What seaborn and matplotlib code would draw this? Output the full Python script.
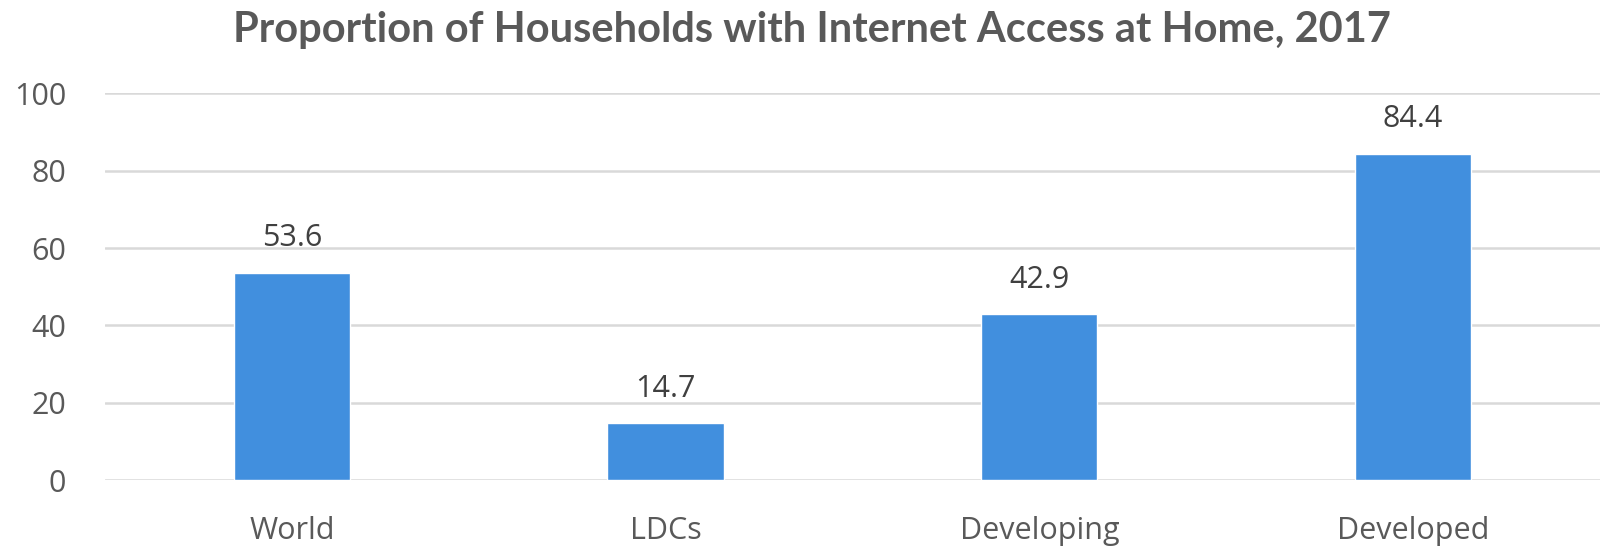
import matplotlib
matplotlib.use("Agg")
import matplotlib.pyplot as plt
import seaborn as sns
import pandas as pd

regions = ["World", "LDCs", "Developing", "Developed"]
share_pct = [53.6, 14.7, 42.9, 84.4]
y_ticks = [0, 20, 40, 60, 80, 100]

title = "Proportion of Households with Internet Access at Home, 2017"

sns.set_theme(style="white")
plt.rcParams["font.family"] = ["Open Sans", "DejaVu Sans"]

df = pd.DataFrame({"region": regions, "share": share_pct})

fig = plt.figure(figsize=(16, 5.48), dpi=100)
ax = fig.add_axes([0.0656, 0.124, 0.9344, 0.7057])

sns.barplot(data=df, x="region", y="share", order=regions, color="#418FDE",
            width=0.311, saturation=1, ax=ax, zorder=3)

ax.set_xlim(-0.5, len(regions) - 0.5)
ax.set_ylim(0, 100)
ax.set_yticks(y_ticks)
ax.set_yticklabels([str(t) for t in y_ticks])
ax.grid(axis="y", color="#D9D9D9", linewidth=1.8, zorder=0)
ax.grid(axis="x", visible=False)
for s in ax.spines.values():
    s.set_visible(False)

ax.tick_params(axis="y", length=0, pad=28, labelsize=22, labelcolor="#595959")
ax.tick_params(axis="x", length=0, pad=26, labelsize=22, labelcolor="#595959")
ax.set_xlabel("")
ax.set_ylabel("")

for cont in ax.containers:
    ax.bar_label(cont, labels=[f"{v:.1f}" for v in share_pct], padding=14,
                 fontsize=22, color="#404040")

fig.text(0.5075, 0.945, title, ha="center", va="center", fontsize=30,
         fontweight="bold", color="#595959", family=["Lato", "DejaVu Sans"])

fig.savefig("out.png", dpi=100, facecolor="white")
